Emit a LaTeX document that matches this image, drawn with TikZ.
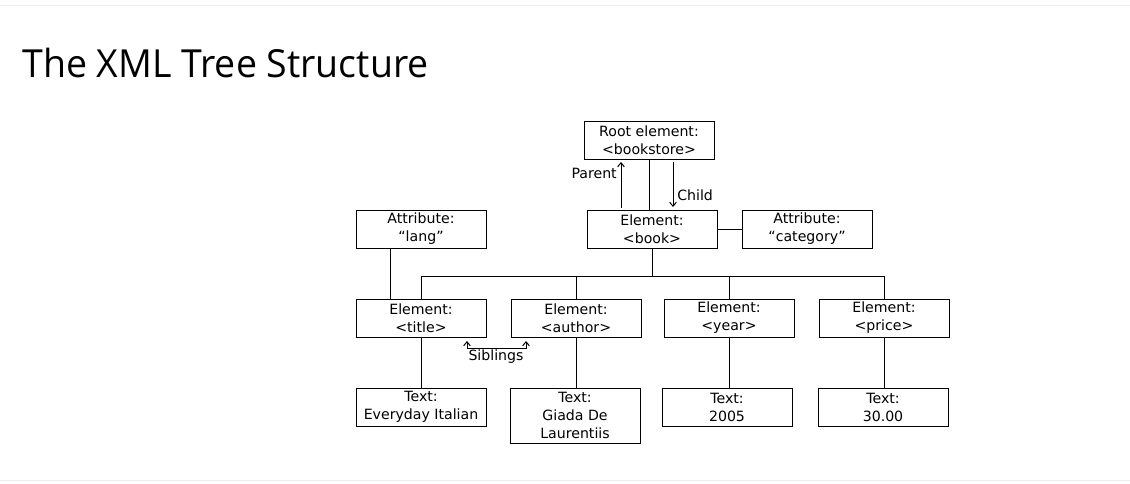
\documentclass[tikz,border=0pt]{standalone}
\usepackage{fontspec}
\setmainfont{DejaVu Sans}
\newfontfamily\titlefont{Open Sans}
\usetikzlibrary{arrows.meta,calc}
\begin{document}
\begin{tikzpicture}[x=0.75pt,y=-0.75pt,
  box/.style={draw=black, line width=0.75pt, minimum width=97.5pt, minimum height=28.5pt, inner sep=0pt, align=center, font=\fontsize{10.6}{13.5}\selectfont},
  conn/.style={line width=0.75pt},
  lbl/.style={font=\fontsize{10.6}{13.5}\selectfont, inner sep=0pt},
  arr/.style={conn, -{Straight Barb[length=3pt,width=5pt]}},
  rule/.style={draw=black!7, line width=0.75pt}]
\useasboundingbox[fill=white] (0,0) rectangle (1130,483);
\draw[rule] (0,5) -- (1130,5);
\draw[rule] (0,480) -- (1130,480);
\node[anchor=base west, inner sep=0pt, font=\titlefont\fontsize{29}{34}\selectfont] (title) at (22,77) {\scalebox{0.97}[1]{The XML Tree Structure}};

\node[box] (root) at (649,140) {Root element:\\<bookstore>};
\node[box] (book) at (652,229) {Element:\\<book>};
\node[box] (lang) at (421,229) {Attribute:\\“lang”};
\node[box] (cat) at (807,229) {Attribute:\\“category”};
\node[box] (ttl) at (421,318) {Element:\\<title>};
\node[box] (auth) at (576,318) {Element:\\<author>};
\node[box] (year) at (729,318) {Element:\\<year>};
\node[box] (price) at (884,318) {Element:\\<price>};
\node[box] (t1) at (421,407) {Text:\\Everyday Italian};
\node[box, minimum height=41.25pt] (t2) at (575,415.5) {Text:\\Giada De\\Laurentiis};
\node[box] (t3) at (727,407) {Text:\\2005};
\node[box] (t4) at (883,407) {Text:\\30.00};

\coordinate (bus) at (648,276);
\draw[conn] (root.south) -- (root.south |- book.north);
\draw[conn] (book.east) -- (cat.west);
\draw[conn] (book.south) -- (book.south |- bus);
\draw[conn] (ttl.north) -- (ttl.north |- bus) -- (price.north |- bus) -- (price.north);
\draw[conn] (auth.north) -- (auth.north |- bus);
\draw[conn] (year.north) -- (year.north |- bus);
\draw[conn] ($(lang.south west)+(35,0)$) -- ($(ttl.north west)+(35,0)$);
\draw[conn] (ttl.south) -- (t1.north);
\draw[conn] (auth.south) -- (auth.south |- t2.north);
\draw[conn] (year.south) -- (year.south |- t3.north);
\draw[conn] (price.south) -- (price.south |- t4.north);

\coordinate (pA) at (621,208);
\coordinate (pB) at (621,162);
\draw[arr] (pA) -- (pB);
\node[lbl, anchor=east] (plbl) at (617,173) {Parent};
\coordinate (cA) at (673,162);
\coordinate (cB) at (673,207);
\draw[arr] (cA) -- (cB);
\node[lbl, anchor=west] (clbl) at (677,195) {Child};

\coordinate (sA) at (467,341);
\coordinate (sB) at (526,341);
\draw[conn, {Straight Barb[length=3pt,width=5pt]}-{Straight Barb[length=3pt,width=5pt]}] (sA) -- ++(0,7) -| (sB);
\node[lbl] (slbl) at (496,357) {Siblings};
\end{tikzpicture}
\end{document}
